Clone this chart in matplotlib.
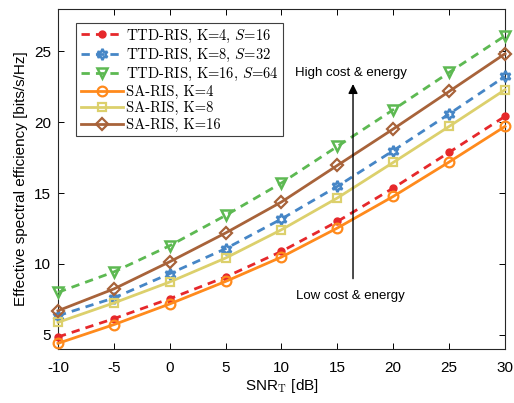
import numpy as np
import matplotlib
matplotlib.use("Agg")
import matplotlib.pyplot as plt

plt.rcParams['mathtext.fontset'] = 'cm'
plt.rcParams['axes.unicode_minus'] = False

snr = [-10, -5, 0, 5, 10, 15, 20, 25, 30]

# TTD-RIS curves
ttd_k4 = [4.85, 6.14, 7.55, 9.08, 10.89, 13.0, 15.36, 17.88, 20.42]
ttd_k8 = [6.35, 7.6, 9.32, 11.08, 13.18, 15.48, 18.0, 20.59, 23.24]
ttd_k16 = [8.0, 9.44, 11.29, 13.43, 15.72, 18.3, 20.89, 23.52, 26.11]

# SA-RIS curves
sa_k4 = [4.4, 5.72, 7.18, 8.77, 10.49, 12.54, 14.77, 17.2, 19.71]
sa_k8 = [5.88, 7.25, 8.73, 10.42, 12.42, 14.66, 17.17, 19.71, 22.3]
sa_k16 = [6.7, 8.24, 10.16, 12.19, 14.38, 16.96, 19.53, 22.18, 24.84]

labels = [r'TTD-RIS, K=4, $S$=16', r'TTD-RIS, K=8, $S$=32', r'TTD-RIS, K=16, $S$=64',
          'SA-RIS, K=4', 'SA-RIS, K=8', 'SA-RIS, K=16']

red = '#E6282B'
blue = '#4686C6'
green = '#5DB952'
orange = '#FF8A1C'
yellow = '#DCD06C'
brown = '#A8633A'

fig = plt.figure(figsize=(5.14, 4.03), dpi=100)
ax = fig.add_axes([0.1128, 0.134, 0.8697, 0.8437])

lw = 2.0
dash = (3, 2.2)
ax.plot(snr, ttd_k4, '--', dashes=dash, color=red, lw=lw, marker='o', ms=5, mfc=red, mec=red,
        clip_on=False, zorder=3, label=labels[0])
ax.plot(snr, ttd_k8, '--', dashes=dash, color=blue, lw=lw, marker=(6, 1, 0), ms=8, mfc='none', mec=blue, mew=1.8,
        clip_on=False, zorder=3, label=labels[1])
ax.plot(snr, ttd_k16, '--', dashes=dash, color=green, lw=lw, marker='v', ms=7.5, mfc='none', mec=green, mew=1.8,
        clip_on=False, zorder=3, label=labels[2])
ax.plot(snr, sa_k4, '-', color=orange, lw=lw, marker='o', ms=7, mfc='none', mec=orange, mew=1.6,
        clip_on=False, zorder=3, label=labels[3])
ax.plot(snr, sa_k8, '-', color=yellow, lw=lw, marker='s', ms=6, mfc='none', mec=yellow, mew=1.6,
        clip_on=False, zorder=3, label=labels[4])
ax.plot(snr, sa_k16, '-', color=brown, lw=lw, marker='D', ms=6, mfc='none', mec=brown, mew=1.6,
        clip_on=False, zorder=3, label=labels[5])

ax.set_xlim(-10, 30)
ax.set_ylim(4, 28)
ax.set_xticks(np.arange(-10, 31, 5))
ax.set_yticks([5, 10, 15, 20, 25])
ax.tick_params(direction='in', top=True, right=True, labelsize=11, length=4, width=0.7)
ax.tick_params(axis='x', pad=9)
ax.tick_params(axis='y', pad=5)
for lab in ax.get_xticklabels() + ax.get_yticklabels():
    lab.set_fontfamily('Liberation Sans')
for s in ax.spines.values():
    s.set_linewidth(0.8)
    s.set_color('#262626')

ax.set_xlabel(r'SNR$_\mathrm{T}$ [dB]', fontsize=11, fontfamily='Liberation Sans', labelpad=1)
ax.set_ylabel('Effective spectral efficiency [bits/s/Hz]', fontsize=11, fontfamily='Liberation Sans', labelpad=4)

ax.annotate('', xy=(16.4, 22.9), xytext=(16.4, 8.77),
            arrowprops=dict(arrowstyle='-|>', color='black', lw=1.0, mutation_scale=14))
ax.text(16.2, 23.5, 'High cost & energy', ha='center', va='center', fontsize=9.5, fontfamily='Liberation Sans')
ax.text(16.2, 7.76, 'Low cost & energy', ha='center', va='center', fontsize=9.5, fontfamily='Liberation Sans')

leg = ax.legend(loc='upper left', bbox_to_anchor=(0.025, 0.98), prop={'family': 'cmr10', 'size': 10.5},
                handlelength=2.9, labelspacing=0.15, borderpad=0.3, handletextpad=0.2,
                fancybox=False, edgecolor='#404040', framealpha=1)
leg.get_frame().set_linewidth(0.8)
leg.set_zorder(5)

fig.savefig('out.png', dpi=100)
